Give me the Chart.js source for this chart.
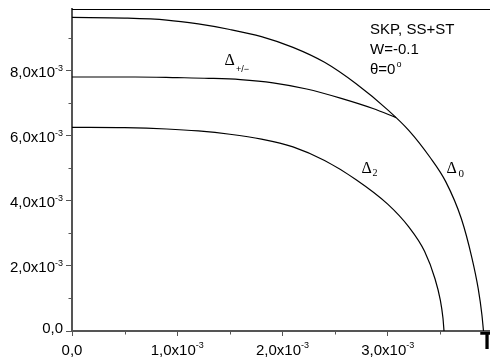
<!DOCTYPE html>
<html>
<head>
<meta charset="utf-8">
<script src="https://cdn.jsdelivr.net/npm/chart.js@4"></script>
<style>
html,body{margin:0;padding:0;background:#fff;overflow:hidden;}
#wrap{position:relative;width:490px;height:359px;}
</style>
</head>
<body>
<div id="wrap"><canvas id="c" width="490" height="359"></canvas></div>
<script>
// values in units of 1e-3
const delta0X = [0, 0.5, 0.9, 1.2, 1.5, 1.8, 2.1, 2.4, 2.7, 3.0, 3.2, 3.4, 3.55, 3.7, 3.8, 3.86, 3.895, 3.91];
const delta0Y = [9.64, 9.62, 9.56, 9.44, 9.27, 9.05, 8.72, 8.26, 7.60, 6.80, 6.17, 5.35, 4.60, 3.45, 2.25, 1.30, 0.50, 0];

const deltaPMX = [0, 0.6, 1.0, 1.3, 1.6, 1.91, 2.23, 2.55, 2.86, 3.08];
const deltaPMY = [7.81, 7.81, 7.79, 7.77, 7.73, 7.63, 7.44, 7.16, 6.84, 6.56];

const delta2X = [0, 0.5, 0.9, 1.2, 1.5, 1.8, 2.1, 2.4, 2.7, 3.0, 3.2, 3.35, 3.45, 3.5, 3.525, 3.535];
const delta2Y = [6.26, 6.25, 6.21, 6.15, 6.05, 5.90, 5.66, 5.24, 4.65, 3.90, 3.20, 2.45, 1.60, 0.95, 0.40, 0];

const xTickValues = [0, 1, 2, 3];
const xTickMain = ['0,0', '1,0x10', '2,0x10', '3,0x10'];
const xTickSup = ['', '-3', '-3', '-3'];
const xMinorValues = [0.5, 1.5, 2.5, 3.5];

const yTickValues = [0, 2, 4, 6, 8];
const yTickMain = ['0,0', '2,0x10', '4,0x10', '6,0x10', '8,0x10'];
const yTickSup = ['', '-3', '-3', '-3', '-3'];
const yMinorValues = [1, 3, 5, 7, 9];

const xMin = 0, xMax = 3.972;
const yMin = 0, yMax = 9.9;

function pts(xs, ys){ return xs.map((x,i)=>({x:x, y:ys[i]})); }

const AXIS = '#555';

const decor = {
  id: 'decor',
  afterDraw(chart){
    const ctx = chart.ctx;
    const xs = chart.scales.x, ys = chart.scales.y;
    const ca = chart.chartArea;
    ctx.save();
    // top frame line
    ctx.strokeStyle = '#000';
    ctx.lineWidth = 1;
    ctx.beginPath(); ctx.moveTo(ca.left, ca.top + 0.5); ctx.lineTo(ca.right, ca.top + 0.5); ctx.stroke();
    // minor ticks
    ctx.strokeStyle = AXIS;
    ctx.lineWidth = 1;
    yMinorValues.forEach(v=>{
      const py = Math.round(ys.getPixelForValue(v)) + 0.5;
      ctx.beginPath(); ctx.moveTo(ca.left - 3.5, py); ctx.lineTo(ca.left, py); ctx.stroke();
    });
    xMinorValues.forEach(v=>{
      const px = Math.round(xs.getPixelForValue(v)) + 0.5;
      ctx.beginPath(); ctx.moveTo(px, ca.bottom); ctx.lineTo(px, ca.bottom + 3.5); ctx.stroke();
    });
    // tick labels
    ctx.fillStyle = '#000';
    ctx.textBaseline = 'alphabetic';
    const mainFont = '15px "Liberation Sans", Arial, sans-serif';
    const supFont = '9px "Liberation Sans", Arial, sans-serif';
    yTickValues.forEach((v,i)=>{
      const py = ys.getPixelForValue(v);
      ctx.font = supFont; const sw = ctx.measureText(yTickSup[i]).width;
      const right = 63;
      ctx.textAlign = 'right';
      ctx.font = mainFont;
      const base = (v === 0) ? py + 2 : py + 6;
      ctx.fillText(yTickMain[i], right - sw, base);
      if (yTickSup[i]) { ctx.font = supFont; ctx.textAlign = 'left'; ctx.fillText(yTickSup[i], right - sw, base - 5.5); }
    });
    xTickValues.forEach((v,i)=>{
      const px = xs.getPixelForValue(v);
      ctx.font = mainFont; const mw = ctx.measureText(xTickMain[i]).width;
      ctx.font = supFont; const sw = ctx.measureText(xTickSup[i]).width;
      const left = px - (mw + sw)/2;
      ctx.textAlign = 'left';
      ctx.font = mainFont; ctx.fillText(xTickMain[i], left, 355);
      if (xTickSup[i]) { ctx.font = supFont; ctx.fillText(xTickSup[i], left + mw, 348); }
    });
    // annotation text
    ctx.textAlign = 'left';
    ctx.font = mainFont;
    ctx.fillText('SKP, SS+ST', 370, 33.5);
    ctx.fillText('W=-0.1', 370, 53.5);
    ctx.fillText('\u03b8=0', 370, 74);
    ctx.font = supFont; ctx.fillText('o', 396.5, 67);
    // curve labels
    const serif = '16px "Liberation Serif", "Times New Roman", serif';
    ctx.font = serif; ctx.fillText('\u0394', 224.5, 65);
    ctx.font = '9px "Liberation Sans", Arial, sans-serif'; ctx.fillText('+/\u2212', 236, 72);
    ctx.font = serif; ctx.fillText('\u0394', 446.5, 173.3);
    ctx.font = '11px "Liberation Serif", serif'; ctx.fillText('0', 458.5, 177);
    ctx.font = serif; ctx.fillText('\u0394', 361.5, 173.3);
    ctx.font = '10px "Liberation Serif", serif'; ctx.fillText('2', 372.5, 175.5);
    // "T" at axis end
    ctx.font = 'bold 23px "Liberation Sans", Arial, sans-serif';
    ctx.textAlign = 'center';
    ctx.fillText('T', 487, 348.5);
    ctx.restore();
  }
};

const lineStyle = {borderColor:'#000', borderWidth:1.2, pointRadius:0, fill:false, cubicInterpolationMode:'monotone'};

new Chart(document.getElementById('c'), {
  type: 'line',
  data: {
    datasets: [
      Object.assign({label:'\u03940', data: pts(delta0X, delta0Y)}, lineStyle),
      Object.assign({label:'\u0394+/-', data: pts(deltaPMX, deltaPMY)}, lineStyle),
      Object.assign({label:'\u03942', data: pts(delta2X, delta2Y)}, lineStyle)
    ]
  },
  options: {
    responsive: false,
    animation: false,
    layout: {padding: {top: 9, right: 0, left: 0, bottom: 0}},
    plugins: {legend:{display:false}, tooltip:{enabled:false}},
    scales: {
      x: {
        type: 'linear', min: xMin, max: xMax,
        afterBuildTicks: s => { s.ticks = xTickValues.map(v=>({value:v})); },
        afterFit: s => { s.height = 28; },
        ticks: {display:false},
        grid: {drawOnChartArea:false, drawTicks:true, tickLength:5, color:AXIS, lineWidth:1},
        border: {display:true, color:AXIS, width:2}
      },
      y: {
        type: 'linear', min: yMin, max: yMax,
        afterBuildTicks: s => { s.ticks = yTickValues.map(v=>({value:v})); },
        afterFit: s => { s.width = 72; },
        ticks: {display:false},
        grid: {drawOnChartArea:false, drawTicks:true, tickLength:6, color:AXIS, lineWidth:1},
        border: {display:true, color:AXIS, width:2}
      }
    }
  },
  plugins: [decor]
});
</script>
</body>
</html>
